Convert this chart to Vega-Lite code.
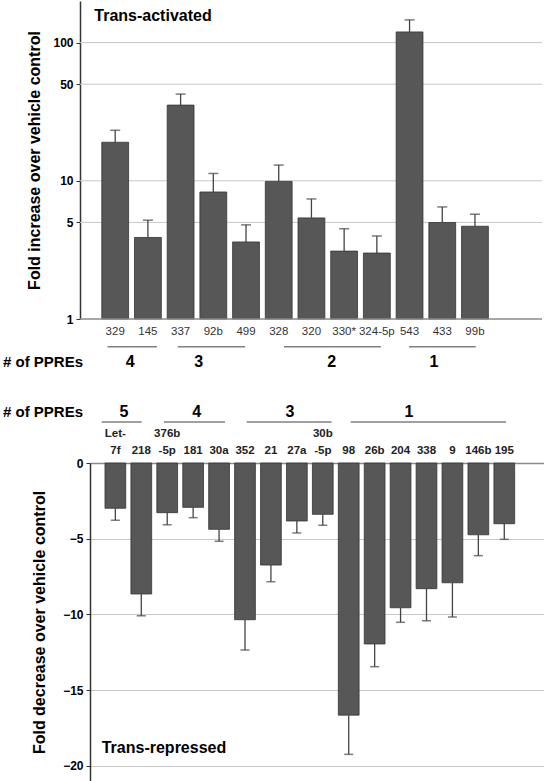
{
  "$schema": "https://vega.github.io/schema/vega-lite/v6.json",
  "background": "white",
  "padding": {"left": 3, "top": 1, "right": 0, "bottom": 0},
  "spacing": 33,
  "config": {
    "font": "Liberation Sans",
    "view": {"stroke": null},
    "axis": {"labelFont": "Liberation Sans", "titleFont": "Liberation Sans"}
  },
  "datasets": {
    "up": [
      {"mir": "329", "fold": 19.0, "err": 23.2},
      {"mir": "145", "fold": 3.89, "err": 5.19},
      {"mir": "337", "fold": 35.3, "err": 42.4},
      {"mir": "92b", "fold": 8.3, "err": 11.3},
      {"mir": "499", "fold": 3.61, "err": 4.8},
      {"mir": "328", "fold": 9.9, "err": 13.0},
      {"mir": "320", "fold": 5.39, "err": 7.39},
      {"mir": "330*", "fold": 3.1, "err": 4.49},
      {"mir": "324-5p", "fold": 3.0, "err": 3.99},
      {"mir": "543", "fold": 119.5, "err": 146},
      {"mir": "433", "fold": 4.99, "err": 6.47},
      {"mir": "99b", "fold": 4.69, "err": 5.73}
    ],
    "upGrid": [{"g": 5}, {"g": 10}, {"g": 50}, {"g": 100}],
    "upGroups": [
      {"n": "4", "from": -0.253, "to": 1.271, "mid": 0.447},
      {"n": "3", "from": 1.915, "to": 3.992, "mid": 2.557},
      {"n": "2", "from": 5.191, "to": 8.18, "mid": 6.66},
      {"n": "1", "from": 9.047, "to": 11.106, "mid": 9.818}
    ],
    "down": [
      {"mir": "Let-|7f", "fold": -2.99, "err": -3.78},
      {"mir": "218", "fold": -8.65, "err": -10.09},
      {"mir": "376b|-5p", "fold": -3.28, "err": -4.08},
      {"mir": "181", "fold": -2.93, "err": -3.61},
      {"mir": "30a", "fold": -4.38, "err": -5.17},
      {"mir": "352", "fold": -10.35, "err": -12.35},
      {"mir": "21", "fold": -6.74, "err": -7.84},
      {"mir": "27a", "fold": -3.83, "err": -4.62},
      {"mir": "30b|-5p", "fold": -3.39, "err": -4.11},
      {"mir": "98", "fold": -16.65, "err": -19.24},
      {"mir": "26b", "fold": -11.95, "err": -13.45},
      {"mir": "204", "fold": -9.56, "err": -10.52},
      {"mir": "338", "fold": -8.3, "err": -10.42},
      {"mir": "9", "fold": -7.91, "err": -10.17},
      {"mir": "146b", "fold": -4.74, "err": -6.12},
      {"mir": "195", "fold": -4.01, "err": -5.04}
    ],
    "downGroups": [
      {"n": "5", "from": -0.526, "to": 1.016, "mid": 0.333},
      {"n": "4", "from": 1.876, "to": 4.229, "mid": 3.138},
      {"n": "3", "from": 5.066, "to": 8.34, "mid": 6.735},
      {"n": "1", "from": 9.076, "to": 15.065, "mid": 11.324}
    ]
  },
  "vconcat": [
    {
      "width": 452,
      "height": 318,
      "resolve": {"scale": {"x": "independent"}},
      "layer": [
        {
          "data": {"name": "upGrid"},
          "mark": {"type": "rule", "color": "#c8c8c8", "strokeWidth": 1},
          "encoding": {
            "x": {"datum": -1.101, "type": "quantitative", "scale": {"domain": [-0.793, 13.149], "nice": false, "zero": false}, "axis": null},
            "x2": {"datum": 13.149},
            "y": {
              "field": "g", "type": "quantitative",
              "title": "Fold increase over vehicle control",
              "scale": {"type": "log", "domain": [1, 200], "nice": false},
              "axis": {"values": [1, 5, 10, 50, 100], "format": "d", "grid": false, "offset": 10,
                       "ticks": true, "tickSize": 4, "tickColor": "#333333", "domainColor": "#333333", "domainWidth": 1.5,
                       "labelFontSize": 12, "labelFontWeight": "bold", "labelColor": "#000000", "labelPadding": 3,
                       "titleFontSize": 16, "titleFontWeight": "bold", "titleColor": "#000000", "titlePadding": 10}
            }
          }
        },
        {
          "data": {"name": "up"},
          "encoding": {
            "x": {
              "field": "mir", "type": "nominal", "sort": null,
              "scale": {"paddingInner": 0.18, "paddingOuter": 1.061, "align": 0.1802},
              "axis": {"title": null, "labelAngle": 0, "ticks": false, "domain": false,
                       "labelFontSize": 11.5, "labelColor": "#333333", "labelPadding": 6, "labelOverlap": false, "grid": false}
            },
            "y": {
              "field": "fold", "type": "quantitative",
              "title": "Fold increase over vehicle control",
              "scale": {"type": "log", "domain": [1, 200], "nice": false},
              "axis": {"values": [1, 5, 10, 50, 100], "format": "d", "grid": false, "offset": 10,
                       "ticks": true, "tickSize": 4, "tickColor": "#333333", "domainColor": "#333333", "domainWidth": 1.5,
                       "labelFontSize": 12, "labelFontWeight": "bold", "labelColor": "#000000", "labelPadding": 3,
                       "titleFontSize": 16, "titleFontWeight": "bold", "titleColor": "#000000", "titlePadding": 10}
            }
          },
          "layer": [
            {"mark": {"type": "bar", "fill": "#575757", "stroke": "#333333", "strokeWidth": 0.8}, "encoding": {"y2": {"datum": 1}}},
            {"mark": {"type": "rule", "color": "#444444", "strokeWidth": 1.3}, "encoding": {"y2": {"field": "err"}}},
            {"mark": {"type": "tick", "color": "#444444", "thickness": 1.5, "size": 10},
             "encoding": {"y": {"field": "err", "type": "quantitative", "title": "Fold increase over vehicle control"}}}
          ]
        },
        {
          "layer": [
            {
              "data": {"values": [{"label": "axis"}]},
              "mark": {"type": "rule", "color": "#8a8a8a", "strokeWidth": 1.5},
              "encoding": {
                "x": {"datum": -1.101, "type": "quantitative", "scale": {"domain": [-0.793, 13.149], "nice": false, "zero": false}, "axis": null},
                "x2": {"datum": 13.149},
                "y": {"datum": 1}
              }
            },
            {
              "data": {"name": "upGroups"},
              "mark": {"type": "rule", "color": "#808080", "strokeWidth": 1.5},
              "encoding": {
                "x": {"field": "from", "type": "quantitative"},
                "x2": {"field": "to"},
                "y": {"datum": 0.63}
              }
            },
            {
              "data": {"name": "upGroups"},
              "mark": {"type": "text", "fontSize": 16, "fontWeight": "bold", "color": "#000000", "baseline": "middle"},
              "encoding": {
                "x": {"field": "mid", "type": "quantitative"},
                "y": {"datum": 0.486},
                "text": {"field": "n"}
              }
            },
            {
              "data": {"values": [{"label": "# of PPREs"}]},
              "mark": {"type": "text", "fontSize": 15, "fontWeight": "bold", "color": "#000000", "align": "left", "baseline": "middle"},
              "encoding": {
                "x": {"datum": -3.476, "type": "quantitative"},
                "y": {"datum": 0.486},
                "text": {"field": "label"}
              }
            },
            {
              "data": {"values": [{"label": "Trans-activated"}]},
              "mark": {"type": "text", "fontSize": 16, "fontWeight": "bold", "color": "#000000", "align": "left", "baseline": "middle"},
              "encoding": {
                "x": {"datum": -0.66, "type": "quantitative"},
                "y": {"datum": 154.6},
                "text": {"field": "label"}
              }
            }
          ]
        }
      ]
    },
    {
      "width": 454,
      "height": 318,
      "resolve": {"scale": {"x": "independent"}},
      "layer": [
        {
          "data": {"name": "down"},
          "encoding": {
            "x": {
              "field": "mir", "type": "nominal", "sort": null,
              "scale": {"paddingInner": 0.2, "paddingOuter": 0.855, "align": 0.338},
              "axis": {"orient": "top", "title": null, "labelAngle": 0, "ticks": false, "domainColor": "#8a8a8a", "domainWidth": 1.5,
                       "labelFontSize": 11.5, "labelFontWeight": "bold", "labelColor": "#222222", "labelPadding": 25,
                       "labelLineHeight": 17, "labelOverlap": false,
                       "labelExpr": "indexof(datum.label, '|') >= 0 ? split(datum.label, '|') : ['', datum.label]", "grid": false}
            },
            "y": {
              "field": "fold", "type": "quantitative",
              "title": "Fold decrease over vehicle control",
              "scale": {"domain": [-21, 0], "nice": false, "zero": false},
              "axis": {"values": [0, -5, -10, -15, -20], "grid": true, "gridColor": "#c8c8c8", "gridWidth": 1,
                       "ticks": true, "tickSize": 4, "tickColor": "#333333", "domainColor": "#333333", "domainWidth": 1.5,
                       "labelFontSize": 12, "labelFontWeight": "bold", "labelColor": "#000000", "labelPadding": 3,
                       "titleFontSize": 16, "titleFontWeight": "bold", "titleColor": "#000000", "titlePadding": 15}
            }
          },
          "layer": [
            {"mark": {"type": "bar", "fill": "#575757", "stroke": "#333333", "strokeWidth": 0.8}, "encoding": {"y2": {"datum": 0}}},
            {"mark": {"type": "rule", "color": "#444444", "strokeWidth": 1.3}, "encoding": {"y2": {"field": "err"}}},
            {"mark": {"type": "tick", "color": "#444444", "thickness": 1.5, "size": 9},
             "encoding": {"y": {"field": "err", "type": "quantitative", "title": "Fold decrease over vehicle control"}}}
          ]
        },
        {
          "layer": [
            {
              "data": {"name": "downGroups"},
              "mark": {"type": "rule", "color": "#808080", "strokeWidth": 1.5},
              "encoding": {
                "x": {"field": "from", "type": "quantitative", "scale": {"domain": [-0.978, 16.53], "nice": false, "zero": false}, "axis": null},
                "x2": {"field": "to"},
                "y": {"datum": 2.71}
              }
            },
            {
              "data": {"name": "downGroups"},
              "mark": {"type": "text", "fontSize": 16, "fontWeight": "bold", "color": "#000000", "baseline": "middle"},
              "encoding": {
                "x": {"field": "mid", "type": "quantitative"},
                "y": {"datum": 3.35},
                "text": {"field": "n"}
              }
            },
            {
              "data": {"values": [{"label": "# of PPREs"}]},
              "mark": {"type": "text", "fontSize": 15, "fontWeight": "bold", "color": "#000000", "align": "left", "baseline": "middle"},
              "encoding": {
                "x": {"datum": -4.333, "type": "quantitative"},
                "y": {"datum": 3.35},
                "text": {"field": "label"}
              }
            },
            {
              "data": {"values": [{"label": "Trans-repressed"}]},
              "mark": {"type": "text", "fontSize": 16, "fontWeight": "bold", "color": "#000000", "align": "left", "baseline": "middle"},
              "encoding": {
                "x": {"datum": -0.526, "type": "quantitative"},
                "y": {"datum": -18.84},
                "text": {"field": "label"}
              }
            }
          ]
        }
      ]
    }
  ]
}
